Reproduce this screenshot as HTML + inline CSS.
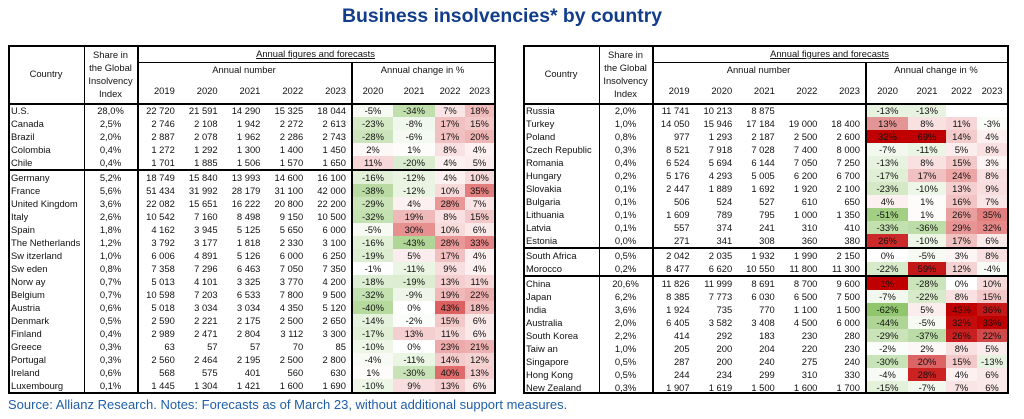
<!DOCTYPE html>
<html><head><meta charset="utf-8">
<style>
html,body{margin:0;padding:0;background:#fff;}
body{width:1024px;height:419px;position:relative;overflow:hidden;font-family:"Liberation Sans",Arial,sans-serif;color:#111;}
.t{position:absolute;font-size:9.4px;line-height:13px;white-space:nowrap;}
.l{position:absolute;background:#000;}
#title{position:absolute;left:-10px;width:1024px;top:5px;text-align:center;font-size:19.4px;font-weight:bold;color:#123c8c;}
#foot{position:absolute;left:8px;top:397px;font-size:13px;color:#1f5ea8;}
</style></head><body>
<div id="title">Business insolvencies* by country</div>
<div id="foot">Source: Allianz Research. Notes: Forecasts as of March 23, without additional support measures.</div>
<div id="root"></div>
<script>
var root=document.getElementById('root');
function L(x,y,w,h){var d=document.createElement('div');d.className='l';d.style.cssText='left:'+x+'px;top:'+y+'px;width:'+w+'px;height:'+h+'px';root.appendChild(d);}
function T(txt,x,y,w,al,extra){var d=document.createElement('div');d.className='t';d.style.cssText='left:'+x+'px;top:'+y+'px;width:'+w+'px;text-align:'+al+';'+(extra||'');d.textContent=txt;root.appendChild(d);return d;}
function B(x,y,w,h,c){var d=document.createElement('div');d.style.cssText='position:absolute;left:'+x+'px;top:'+y+'px;width:'+w+'px;height:'+h+'px;background:'+c;root.appendChild(d);}
function col(v){if(v===''||v===undefined)return '#fff';
 if(v<0){var t=Math.min(1,-v/60);return 'rgb('+Math.round(255-110*t)+','+Math.round(255-57*t)+','+Math.round(255-145*t)+')';}
 var t=Math.min(1,v/50);return 'rgb('+Math.round(255-40*t)+','+Math.round(255-185*t)+','+Math.round(255-185*t)+')';}
function table(cfg){
 var x0=cfg.x0,xC=cfg.xC,xS=cfg.xS,xN=cfg.xN,x1=cfg.x1,cc=cfg.cc;
 var top=45,y1=62,hb=103;
 var nw=(xN-xS)/5;
 T('Annual figures and forecasts',xS,y1-15,x1-xS,'center','text-decoration:underline;');
 T('Annual number',xS,63,xN-xS,'center');
 T('Annual change in %',xN,63,x1-xN,'center');
 T('Country',x0,67,xC-x0,'center');
 ['Share in','the Global','Insolvency','Index'].forEach(function(s,i){T(s,xC,48+i*13,xS-xC,'center');});
 var yrs=['2019','2020','2021','2022','2023'];
 for(var i=0;i<5;i++)T(yrs[i],xS+i*nw,84,nw-5,'right');
 var cy=['2020','2021','2022','2023'];
 for(var i=0;i<4;i++)T(cy[i],cc[i],84,cc[i+1]-cc[i],'center');
 var y=hb+1;
 cfg.groups.forEach(function(g,gi){
  g.forEach(function(r,ri){
   var ch=r[3];
   for(var i=0;i<4;i++){var c=cfg.ov[r[0]+':'+i]||col(ch[i]);B(cc[i],y,cc[i+1]-cc[i],13,c);
     T(ch[i]===''?'':ch[i]+'%',cc[i],y,cc[i+1]-cc[i],'center');}
   T(r[0],x0+3,y,xC-x0-3,'left');
   T(r[1],xC,y,xS-xC,'center');
   var ns=r[2];for(var i=0;i<5;i++)T(ns[i],xS+i*nw,y,nw-5,'right');
   y+=13;
  });
  if(gi<cfg.groups.length-1){L(x0,y,x1-x0,2);y+=2;}
 });
 var bot=cfg.bot;
 L(x0,top,x1-x0+2,2);L(x0,bot,x1-x0+2,2);
 L(x0,top,2,bot-top);L(x1,top,2,bot-top+2);
 L(xC,top,1,bot-top);L(xS,top,2,bot-top);L(xN,y1,2,bot-top-(y1-top));
 L(xS,y1,x1-xS,1);L(x0,hb,x1-x0,2);
}
function P(s){return s.split(',');}
function C(s){return s.split(',').map(function(v){return v===''?'':parseInt(v);});}
function R(n,sh,nums,ch){return [n,sh,P(nums),C(ch)];}
table({x0:8,xC:84,xS:137,xN:351,x1:494,cc:[353,393,435,465,494],bot:392,ov:{},
groups:[[
R('U.S.','28,0%','22 720,21 591,14 290,15 325,18 044','-5,-34,7,18'),
R('Canada','2,5%','2 746,2 108,1 942,2 272,2 613','-23,-8,17,15'),
R('Brazil','2,0%','2 887,2 078,1 962,2 286,2 743','-28,-6,17,20'),
R('Colombia','0,4%','1 272,1 292,1 300,1 400,1 450','2,1,8,4'),
R('Chile','0,4%','1 701,1 885,1 506,1 570,1 650','11,-20,4,5')],[
R('Germany','5,2%','18 749,15 840,13 993,14 600,16 100','-16,-12,4,10'),
R('France','5,6%','51 434,31 992,28 179,31 100,42 000','-38,-12,10,35'),
R('United Kingdom','3,6%','22 082,15 651,16 222,20 800,22 200','-29,4,28,7'),
R('Italy','2,6%','10 542,7 160,8 498,9 150,10 500','-32,19,8,15'),
R('Spain','1,8%','4 162,3 945,5 125,5 650,6 000','-5,30,10,6'),
R('The Netherlands','1,2%','3 792,3 177,1 818,2 330,3 100','-16,-43,28,33'),
R('Sw itzerland','1,0%','6 006,4 891,5 126,6 000,6 250','-19,5,17,4'),
R('Sw eden','0,8%','7 358,7 296,6 463,7 050,7 350','-1,-11,9,4'),
R('Norw ay','0,7%','5 013,4 101,3 325,3 770,4 200','-18,-19,13,11'),
R('Belgium','0,7%','10 598,7 203,6 533,7 800,9 500','-32,-9,19,22'),
R('Austria','0,6%','5 018,3 034,3 034,4 350,5 120','-40,0,43,18'),
R('Denmark','0,5%','2 590,2 221,2 175,2 500,2 650','-14,-2,15,6'),
R('Finland','0,4%','2 989,2 471,2 804,3 112,3 300','-17,13,11,6'),
R('Greece','0,3%','63,57,57,70,85','-10,0,23,21'),
R('Portugal','0,3%','2 560,2 464,2 195,2 500,2 800','-4,-11,14,12'),
R('Ireland','0,6%','568,575,401,560,630','1,-30,40,13'),
R('Luxembourg','0,1%','1 445,1 304,1 421,1 600,1 690','-10,9,13,6')]]});
table({x0:523,xC:599,xS:652,xN:865,x1:1007,cc:[867,908,946,977,1007],bot:392,
ov:{'Poland:0':'#c00000','Poland:1':'#c00000','Estonia:0':'#cc2a2a','Morocco:1':'#c41818','China:0':'#c00000',
'India:2':'#c00000','India:3':'#c41818','Australia:2':'#c40c0c','Australia:3':'#c00000','South Korea:2':'#c82020',
'South Korea:3':'#d04848','Hong Kong:1':'#cc2222','Singapore:1':'#dc6464','Turkey:0':'#e39494'},
groups:[[
R('Russia','2,0%','11 741,10 213,8 875,,','-13,-13,,'),
R('Turkey','1,0%','14 050,15 946,17 184,19 000,18 400','13,8,11,-3'),
R('Poland','0,8%','977,1 293,2 187,2 500,2 600','32,69,14,4'),
R('Czech Republic','0,3%','8 521,7 918,7 028,7 400,8 000','-7,-11,5,8'),
R('Romania','0,4%','6 524,5 694,6 144,7 050,7 250','-13,8,15,3'),
R('Hungary','0,2%','5 176,4 293,5 005,6 200,6 700','-17,17,24,8'),
R('Slovakia','0,1%','2 447,1 889,1 692,1 920,2 100','-23,-10,13,9'),
R('Bulgaria','0,1%','506,524,527,610,650','4,1,16,7'),
R('Lithuania','0,1%','1 609,789,795,1 000,1 350','-51,1,26,35'),
R('Latvia','0,1%','557,374,241,310,410','-33,-36,29,32'),
R('Estonia','0,0%','271,341,308,360,380','26,-10,17,6')],[
R('South Africa','0,5%','2 042,2 035,1 932,1 990,2 150','0,-5,3,8'),
R('Morocco','0,2%','8 477,6 620,10 550,11 800,11 300','-22,59,12,-4')],[
R('China','20,6%','11 826,11 999,8 691,8 700,9 600','1,-28,0,10'),
R('Japan','6,2%','8 385,7 773,6 030,6 500,7 500','-7,-22,8,15'),
R('India','3,6%','1 924,735,770,1 100,1 500','-62,5,43,36'),
R('Australia','2,0%','6 405,3 582,3 408,4 500,6 000','-44,-5,32,33'),
R('South Korea','2,2%','414,292,183,230,280','-29,-37,26,22'),
R('Taiw an','1,0%','205,200,204,220,230','-2,2,8,5'),
R('Singapore','0,5%','287,200,240,275,240','-30,20,15,-13'),
R('Hong Kong','0,5%','244,234,299,310,330','-4,28,4,6'),
R('New Zealand','0,3%','1 907,1 619,1 500,1 600,1 700','-15,-7,7,6')]]});
</script>
</body></html>
